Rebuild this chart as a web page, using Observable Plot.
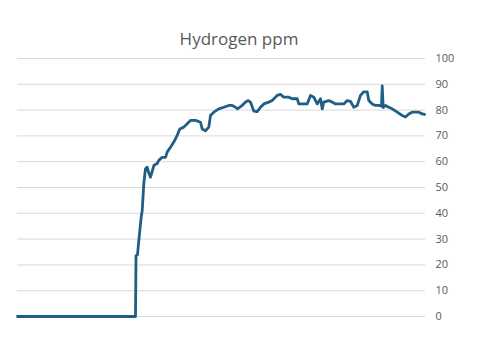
<!DOCTYPE html>
<html>
<head>
<meta charset="utf-8">
<script src="https://cdn.jsdelivr.net/npm/d3@7"></script>
<script src="https://cdn.jsdelivr.net/npm/@observablehq/plot@0.6"></script>
<style>
  html, body { margin: 0; padding: 0; background: #fff; }
  #title { height: 48px; text-align: center; font-family: "Open Sans", sans-serif; font-size: 17px; color: #595959; width: 478px; white-space: nowrap; line-height: 1; box-sizing: border-box; padding-top: 30px; }
</style>
</head>
<body>
<div id="title">Hydrogen ppm</div>
<div id="chart"></div>
<script>
const time = [0,118,118.5,120,121.3,123.7,124.7,126.3,128,129.7,131,133,134.5,136.3,139.7,141.3,144.7,148,149.7,153,156.3,159.7,162.3,166.3,169.7,173,178,183,184.7,188,191.3,193,196.3,201.3,206.3,211.3,214.7,218,220,224.7,228,230.7,233,236.3,239.7,243,246.3,251.3,254.7,259.7,263,266.3,271.3,274.7,279.7,281.3,289.7,293,296.3,299.7,303,304.7,306.3,311.3,314.7,318,321.3,326.3,329.7,333,336.3,339.7,343,346.3,349.7,351.3,354.7,358,361.3,364,364.7,365.7,368,371.3,374.7,379.7,384.7,388,391.3,394.7,398,401.3,404.7,407];
const ppm  = [0,0,23.5,24,29.4,38.5,41,51.5,57.3,57.9,56,54,56,58.5,59.3,60.5,61.7,61.7,63.7,65.6,67.6,70.2,72.7,73.4,74.7,76,76,75.3,72.7,72,73.4,77.9,79.2,80.5,81.1,81.8,81.8,81.1,80.5,81.8,83.1,83.7,83.1,79.6,79.4,81.1,82.4,83.1,83.7,85.7,86.1,85,85,84.4,84.4,82.4,82.4,85.7,85,82.4,84.4,80.5,83.1,83.7,83.1,82.4,82.4,82.4,83.7,83.4,81.1,81.8,85.7,87.1,87.1,83.7,82.4,81.8,81.8,81.5,89.4,81,81.8,81.1,80.5,79.2,77.9,77.3,78.5,79.2,79.2,79.2,78.5,78.3];
const yTicks = [0,10,20,30,40,50,60,70,80,90,100];

const data = time.map((t, i) => ({t, v: ppm[i]}));

const chart = Plot.plot({
  width: 478,
  height: 293,
  marginTop: 10,
  marginBottom: 25,
  marginLeft: 17,
  marginRight: 53,
  style: { fontFamily: "Open Sans, sans-serif", fontSize: "11px", color: "#595959", background: "#fff" },
  x: { domain: [0, 408], axis: null },
  y: { domain: [0, 100], ticks: yTicks, axis: "right", tickSize: 0, tickPadding: 10, label: null, tickFormat: d => String(d) },
  marks: [
    Plot.gridY(yTicks, { stroke: "#d9d9d9", strokeOpacity: 1, strokeWidth: 1 }),
    Plot.line(data, { x: "t", y: "v", stroke: "#1f5f86", strokeWidth: 2.8, strokeLinejoin: "round" })
  ]
});
document.getElementById("chart").appendChild(chart);
</script>
</body>
</html>
